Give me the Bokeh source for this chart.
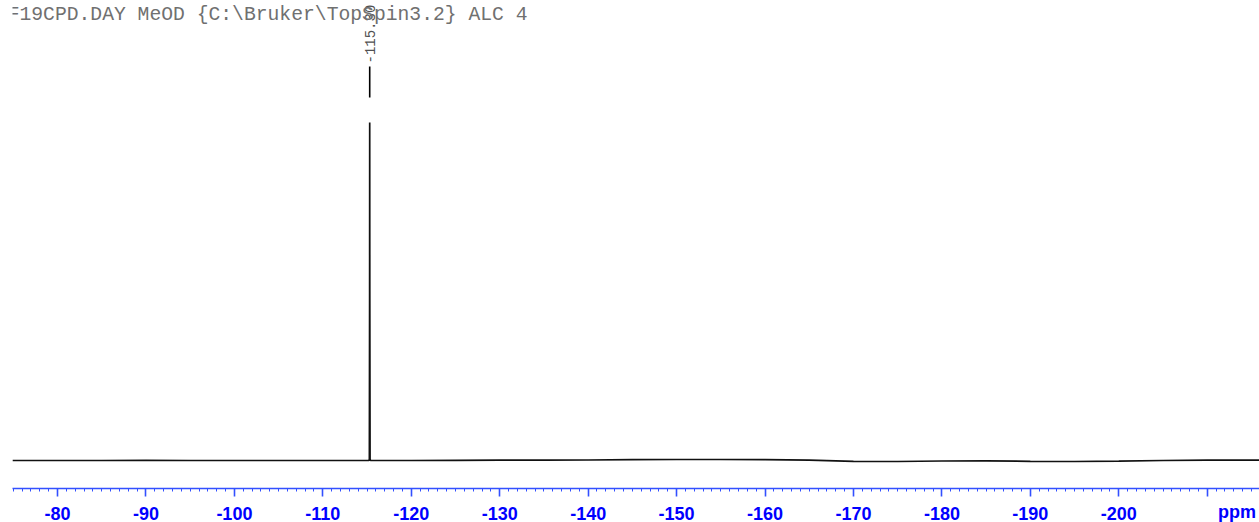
from bokeh.plotting import figure
from bokeh.models import Range1d, Label, FixedTicker
from bokeh.embed import file_html
from bokeh.resources import INLINE

# ---- data ----
title_text = "F19CPD.DAY MeOD {C:\\Bruker\\TopSpin3.2} ALC 4"
unit_label = "ppm"
peak_ppm = -115.30
peak_height = 100.0

# spectrum trace (ppm, relative intensity)
spec_ppm = [-74.9, -80, -85, -90, -95, -100, -105, -110, -115.20,
            -115.26, -115.29, -115.30, -115.31, -115.34,
            -115.40, -120, -125, -130, -135, -140, -145, -150, -155, -160,
            -165, -170, -175, -180, -185, -190, -195, -200, -205, -210, -215.9]
spec_int = [0.0, 0.0, 0.0, 0.05, 0.0, 0.0, 0.0, 0.0, 0.0,
            0.3, 50.0, 100.0, 50.0, 0.3,
            0.0, 0.0, 0.05, 0.1, 0.1, 0.15, 0.25, 0.3, 0.3, 0.25,
            0.1, -0.25, -0.3, -0.15, -0.1, -0.25, -0.3, -0.2, 0.0, 0.1, 0.1]

major_ticks = [-80, -90, -100, -110, -120, -130, -140, -150, -160, -170, -180, -190, -200, -210]
tick_labels = ["-80", "-90", "-100", "-110", "-120", "-130", "-140", "-150", "-160",
               "-170", "-180", "-190", "-200", ""]
minor_ticks = list(range(-75, -216, -1))

# ---- layout ----
px_per_unit = 3.38            # pixels per intensity unit
frame_h = 488
baseline_px = 28              # baseline height above the axis line
y_start = -baseline_px / px_per_unit
y_end = y_start + frame_h / px_per_unit


def y_at(px_from_top):
    return y_start + (frame_h - px_from_top) / px_per_unit


p = figure(frame_width=1247, frame_height=frame_h, output_backend="svg",
           toolbar_location=None,
           x_range=Range1d(-74.91, -215.91), y_range=Range1d(y_start, y_end),
           min_border_left=12, min_border_right=0, min_border_top=0, min_border_bottom=0)
p.outline_line_color = None
p.background_fill_color = "white"
p.border_fill_color = "white"
p.xgrid.visible = False
p.ygrid.visible = False
p.yaxis.visible = False

ax = p.xaxis[0]
ax.ticker = FixedTicker(ticks=major_ticks, minor_ticks=minor_ticks)
ax.major_label_overrides = dict(zip(major_ticks, tick_labels))
blue_line = "#3350ff"
ax.axis_line_color = blue_line
ax.axis_line_width = 1.5
ax.major_tick_line_color = blue_line
ax.minor_tick_line_color = blue_line
ax.major_tick_line_width = 1.6
ax.minor_tick_line_width = 1
ax.major_tick_in = 0
ax.minor_tick_in = 0
ax.major_tick_out = 8
ax.minor_tick_out = 3
ax.major_label_standoff = 10
ax.major_label_text_font = "Liberation Sans"
ax.major_label_text_font_style = "bold"
ax.major_label_text_font_size = "18px"
ax.major_label_text_color = "#0000ff"
# unit label centred on the frame end; padded with no-break spaces so the
# visible "ppm" sits just inside the right edge
ax.axis_label = unit_label + "\u00a0" * 9
ax.axis_label_align = "start"
ax.axis_label_standoff = -21
ax.axis_label_text_font = "Liberation Sans"
ax.axis_label_text_font_style = "bold"
ax.axis_label_text_font_size = "18px"
ax.axis_label_text_color = "#0000ff"

# spectrum
p.line(spec_ppm, spec_int, line_color="#111111", line_width=1.7)

# peak annotation
p.segment(x0=[peak_ppm], y0=[y_at(97)], x1=[peak_ppm], y1=[y_at(66)],
          line_color="black", line_width=1.6)
p.add_layout(Label(x=peak_ppm, y=y_at(63), text=f"{peak_ppm:.2f}",
                   angle=1.5708, text_align="left", text_baseline="middle",
                   text_font="Liberation Mono", text_font_size="14px",
                   text_color="#505050"))

# header (x range is reversed: larger ppm is further left)
p.add_layout(Label(x=-74.36, y=y_at(14), text=title_text,
                   text_align="left", text_baseline="alphabetic",
                   text_font="Liberation Mono", text_font_size="19.7px",
                   text_color="#707070"))

open("out.html", "w").write(file_html(p, INLINE))
